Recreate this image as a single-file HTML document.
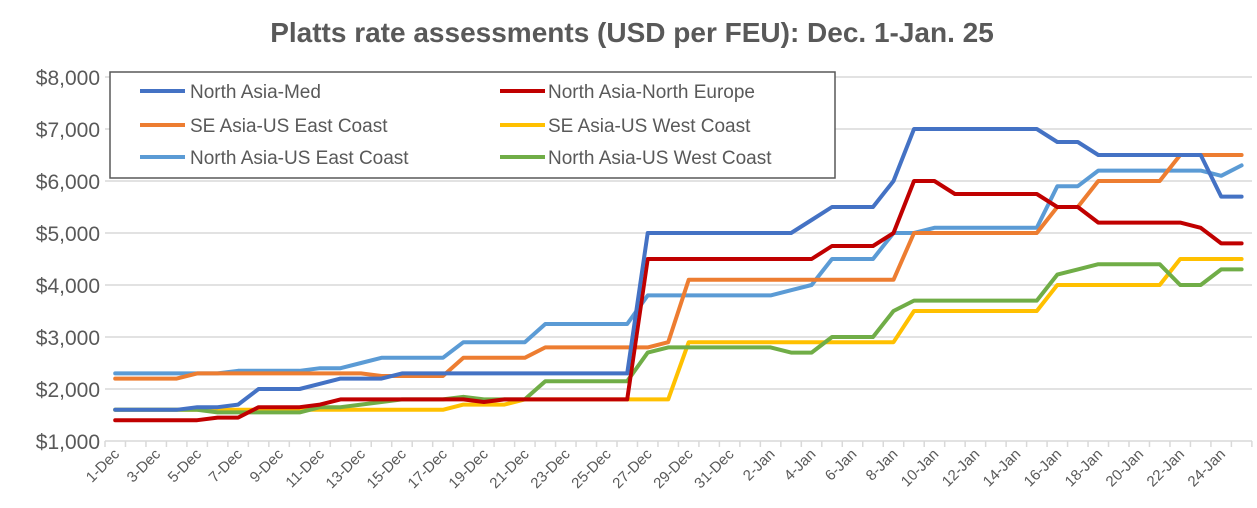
<!DOCTYPE html>
<html><head><meta charset="utf-8"><style>
html,body{margin:0;padding:0;background:#fff;}
svg{display:block;font-family:"Liberation Sans",sans-serif;}
</style></head><body>
<svg id="c" width="1257" height="508" viewBox="0 0 1257 508" xmlns="http://www.w3.org/2000/svg">
<text x="632" y="42" text-anchor="middle" font-size="28" font-weight="bold" fill="#595959">Platts rate assessments (USD per FEU): Dec. 1-Jan. 25</text>
<g id="grid"></g>
<g id="ticks"></g>
<g id="series"></g>
<rect x="110" y="72" width="725" height="106" fill="#fff" stroke="#595959" stroke-width="1.5"/>
<g font-size="19" fill="#595959">
<line x1="140" y1="91" x2="185" y2="91" stroke="#4472C4" stroke-width="4"/><text x="190" y="98">North Asia-Med</text>
<line x1="500" y1="91" x2="545" y2="91" stroke="#C00000" stroke-width="4"/><text x="548" y="98">North Asia-North Europe</text>
<line x1="140" y1="125" x2="185" y2="125" stroke="#ED7D31" stroke-width="4"/><text x="190" y="132">SE Asia-US East Coast</text>
<line x1="500" y1="125" x2="545" y2="125" stroke="#FFC000" stroke-width="4"/><text x="548" y="132">SE Asia-US West Coast</text>
<line x1="140" y1="157" x2="185" y2="157" stroke="#5B9BD5" stroke-width="4"/><text x="190" y="164">North Asia-US East Coast</text>
<line x1="500" y1="157" x2="545" y2="157" stroke="#70AD47" stroke-width="4"/><text x="548" y="164">North Asia-US West Coast</text>
</g>
</svg>
<script>
var NS="http://www.w3.org/2000/svg";
function el(t,a,p,txt){var e=document.createElementNS(NS,t);for(var k in a)e.setAttribute(k,a[k]);if(txt)e.textContent=txt;document.getElementById(p).appendChild(e);return e;}
var x0=105,dx=20.48,N=56;
function X(i){return x0+dx*(i+0.5);}
function Y(v){return 441-(v-1000)*0.052;}
for(var v=1000;v<=8000;v+=1000){
 var y=Y(v);
 el('line',{x1:x0,x2:1252,y1:y,y2:y,stroke:'#d9d9d9','stroke-width':1.5},'grid');
 el('text',{x:100,y:y+8,'text-anchor':'end','font-size':21,fill:'#595959'},'grid','$'+(v/1000)+',000');
}
for(var i=0;i<=N;i++){var tx=x0+dx*i;el('line',{x1:tx,x2:tx,y1:441,y2:447,stroke:'#d9d9d9','stroke-width':1.5},'ticks');}
for(var i=0;i<N;i+=2){
 var lab=i<31?(i+1)+'-Dec':(i-30)+'-Jan';
 var cx=X(i)+5,cy=455;
 el('text',{x:cx,y:cy,'text-anchor':'end','font-size':15,fill:'#595959',transform:'rotate(-45 '+cx+' '+cy+')'},'ticks',lab);
}
function build(segs){var a=[];segs.forEach(function(s){for(var i=s[0];i<=s[1];i++)a[i]=s[2];});return a;}
var S={
'#5B9BD5':build([[0,5,2300],[6,9,2350],[10,11,2400],[12,12,2500],[13,16,2600],[17,20,2900],[21,25,3250],[26,32,3800],[33,33,3900],[34,34,4000],[35,37,4500],[38,39,5000],[40,45,5100],[46,47,5900],[48,53,6200],[54,54,6100],[55,55,6300]]),
'#ED7D31':build([[0,3,2200],[4,12,2300],[13,16,2250],[17,20,2600],[21,26,2800],[27,27,2900],[28,38,4100],[39,45,5000],[46,47,5500],[48,51,6000],[52,55,6500]]),
'#FFC000':build([[0,16,1600],[17,19,1700],[20,27,1800],[28,38,2900],[39,45,3500],[46,51,4000],[52,55,4500]]),
'#70AD47':build([[0,4,1600],[5,9,1550],[10,11,1650],[12,12,1700],[13,13,1750],[14,16,1800],[17,17,1850],[18,20,1800],[21,25,2150],[26,26,2700],[27,32,2800],[33,34,2700],[35,37,3000],[38,38,3500],[39,45,3700],[46,46,4200],[47,47,4300],[48,51,4400],[52,53,4000],[54,55,4300]]),
'#C00000':build([[0,4,1400],[5,6,1450],[7,9,1650],[10,10,1700],[11,17,1800],[18,18,1750],[19,25,1800],[26,34,4500],[35,37,4750],[38,38,5000],[39,40,6000],[41,45,5750],[46,47,5500],[48,52,5200],[53,53,5100],[54,55,4800]]),
'#4472C4':build([[0,3,1600],[4,5,1650],[6,6,1700],[7,9,2000],[10,10,2100],[11,13,2200],[14,25,2300],[26,33,5000],[34,34,5250],[35,37,5500],[38,38,6000],[39,45,7000],[46,47,6750],[48,53,6500],[54,55,5700]])
};
['#5B9BD5','#ED7D31','#FFC000','#70AD47','#C00000','#4472C4'].forEach(function(c){
 var p=S[c].map(function(v,i){return X(i).toFixed(1)+','+Y(v).toFixed(1);}).join(' ');
 el('polyline',{points:p,fill:'none',stroke:c,'stroke-width':4,'stroke-linejoin':'round','stroke-linecap':'round'},'series');
});
</script>
</body></html>
